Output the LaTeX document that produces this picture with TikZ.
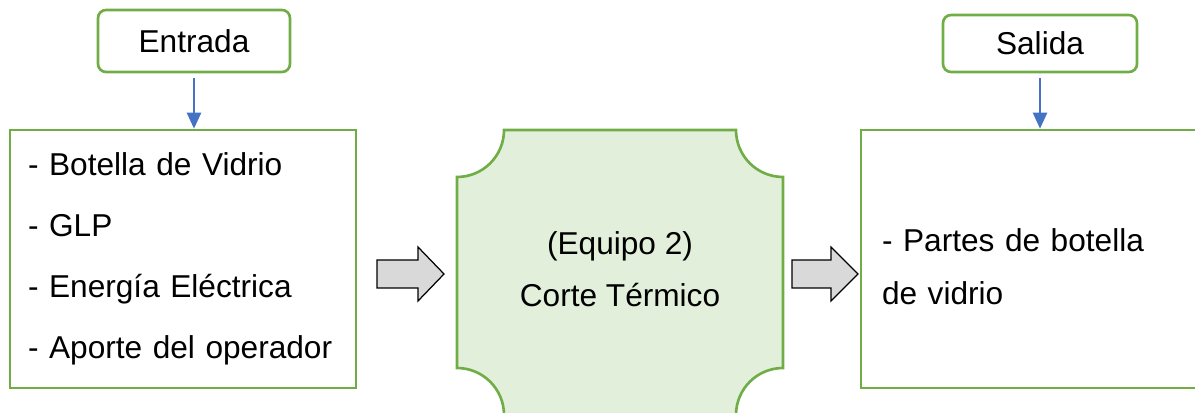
\documentclass[tikz,border=0pt]{standalone}
\usepackage{fontspec}
\setmainfont{Liberation Sans}
\usepackage{xcolor}
\usetikzlibrary{positioning,arrows.meta}
\definecolor{boxgreen}{HTML}{70AD47}
\definecolor{procfill}{HTML}{E2EFDA}
\definecolor{feedblue}{HTML}{4472C4}
\definecolor{arrowgray}{HTML}{D9D9D9}

\begin{document}
\begin{tikzpicture}[x=0.02cm, y=0.02cm,
		tagbox/.style={rectangle, rounded corners=0.16cm, draw=boxgreen, line width=1.5pt, font=\fontsize{18}{22}\selectfont},
		listbox/.style={rectangle, draw=boxgreen, line width=1.5pt, align=left, inner ysep=0pt, minimum height=5.16cm},
		feed/.style={draw=feedblue, line width=1.4pt, shorten <=0.1cm, -{Triangle[width=0.28cm,length=0.32cm]}},
		bigarrow/.style={draw=black, fill=arrowgray, line width=0.7pt, line join=miter}]
		\useasboundingbox (0,0) rectangle (1195,412);
		\clip (0,0) rectangle (1195,412);
		
		% Nodes
		\node [listbox, minimum width=6.92cm, text width=6.2cm, inner xsep=0.36cm, font=\fontsize{18}{34.7}\selectfont] (inputs) at (183,153) {- Botella de Vidrio\\- GLP\\- Energía Eléctrica\\- Aporte del operador};
		\node [listbox, minimum width=7.38cm, text width=6.54cm, inner xsep=0.42cm, font=\fontsize{18}{30}\selectfont] (outputs) at (1045.5,153) {\rule{0pt}{0.78cm}- Partes de botella\\de vidrio};
		\node [tagbox, minimum width=3.84cm, minimum height=1.24cm] (entrada) at (194,371) {Entrada};
		\node [tagbox, minimum width=3.88cm, minimum height=1.14cm] (salida) at (1040,368.5) {Salida};
		
		% Process block with concave corners
		\draw [boxgreen, fill=procfill, line width=1.5pt] (457,235) arc[start angle=270, end angle=360, radius=47]
			-- (736,282) arc[start angle=180, end angle=270, radius=47]
			-- (783,44) arc[start angle=90, end angle=180, radius=47]
			-- (504,-3) arc[start angle=0, end angle=90, radius=47] -- cycle;
		\node [align=center, font=\fontsize{18}{29.5}\selectfont] (process) at (620,143) {(Equipo 2)\\Corte Térmico};
		
		% Arrows
		\draw [feed] (entrada.south) -- (inputs.north -| entrada.south);
		\draw [feed] (salida.south) -- (outputs.north -| salida.south);
		\draw [bigarrow] (377,124) -- (418,124) -- (418,111) -- (444,138) -- (418,165) -- (418,152) -- (377,152) -- cycle;
		\draw [bigarrow] (792,124) -- (831,124) -- (831,111) -- (858,138) -- (831,165) -- (831,152) -- (792,152) -- cycle;
	\end{tikzpicture}
\end{document}
